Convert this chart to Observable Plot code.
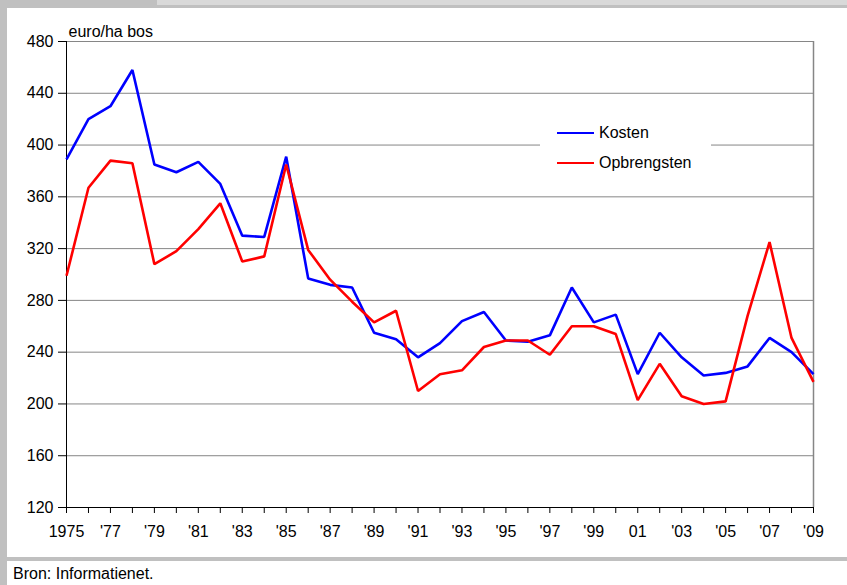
<!DOCTYPE html>
<html>
<head>
<meta charset="utf-8">
<script src="https://cdn.jsdelivr.net/npm/d3@7"></script>
<script src="https://cdn.jsdelivr.net/npm/@observablehq/plot@0.6"></script>
<style>
  html, body { margin: 0; padding: 0; background: #fff; }
  body { width: 847px; height: 585px; position: relative; overflow: hidden;
         font-family: "Liberation Sans", Arial, sans-serif; }
  #chart { position: absolute; left: 0; top: 0; }
  .bar { position: absolute; background: #c0c0c0; }
  #legend { position: absolute; left: 540px; top: 117px; width: 171px; height: 62px; background: #fff;
            font-size: 16px; color: #000; }
  .item { position: absolute; left: 17px; height: 20px; display: flex; align-items: center; }
  .swatch { width: 37px; height: 2.5px; margin-right: 5px; }
  #caption { position: absolute; left: 13px; top: 565px; font-size: 16px; color: #000; }
</style>
</head>
<body>
<div class="bar" style="left:0;top:0;width:847px;height:8px;"></div>
<div style="position:absolute;left:157px;top:0;width:690px;height:5px;background:#d9d9d9;"></div>
<div class="bar" style="left:0;top:0;width:7px;height:585px;"></div>
<div class="bar" style="left:0;top:557px;width:847px;height:4px;"></div>
<div id="chart"></div>
<div id="legend"></div>
<div id="caption">Bron: Informatienet.</div>
<script>
const years = [1975,1976,1977,1978,1979,1980,1981,1982,1983,1984,1985,1986,1987,1988,1989,1990,1991,1992,1993,1994,1995,1996,1997,1998,1999,2000,2001,2002,2003,2004,2005,2006,2007,2008,2009];
const kosten = [389,420,430,458,385,379,387,370,330,329,391,297,292,290,255,250,236,247,264,271,249,248,253,290,263,269,223,255,236,222,224,229,251,240,223];
const opbrengsten = [299,367,388,386,308,318,335,355,310,314,385,319,296,279,263,272,210,223,226,244,249,249,238,260,260,254,203,231,206,200,202,268,325,251,217];
const seriesNames = ["Kosten", "Opbrengsten"];
const seriesColors = ["#0000ff", "#ff0000"];
const yTicks = [120,160,200,240,280,320,360,400,440,480];
const xLabelYears = [1975,1977,1979,1981,1983,1985,1987,1989,1991,1993,1995,1997,1999,2001,2003,2005,2007,2009];
const xLabels = ["1975","'77","'79","'81","'83","'85","'87","'89","'91","'93","'95","'97","'99","01","'03","'05","'07","'09"];
const yUnit = "euro/ha bos";

const labelMap = new Map(xLabelYears.map((y, i) => [y, xLabels[i]]));
const rows = [];
seriesNames.forEach((name, s) => {
  const vals = s === 0 ? kosten : opbrengsten;
  years.forEach((yr, i) => rows.push({ series: name, year: yr, value: vals[i] }));
});

const chart = Plot.plot({
  width: 847,
  height: 558,
  marginLeft: 66,
  marginRight: 34,
  marginTop: 41,
  marginBottom: 51,
  style: { fontFamily: "'Liberation Sans', Arial, sans-serif", fontSize: "16px", color: "#000", background: "transparent", overflow: "visible" },
  x: { domain: [1975, 2009] },
  y: { domain: [120, 480] },
  color: { domain: seriesNames, range: seriesColors },
  marks: [
    Plot.gridY(yTicks.filter(v => v > 120), { stroke: "#868686", strokeOpacity: 1, strokeWidth: 1 }),
    Plot.ruleX([2009], { stroke: "#868686", strokeWidth: 1.5 }),
    Plot.axisY({ ticks: yTicks, tickSize: 8, tickPadding: 5, label: null, tickFormat: d => String(d) }),
    Plot.axisX({ ticks: years, tickSize: 6, tickPadding: 12, label: null, tickFormat: d => labelMap.get(d) ?? "" }),
    Plot.ruleX([1975], { stroke: "#000", strokeWidth: 1 }),
    Plot.ruleY([120], { stroke: "#000", strokeWidth: 1 }),
    Plot.line(rows, { x: "year", y: "value", z: "series", stroke: "series", strokeWidth: 2.6, strokeLinejoin: "miter", strokeLinecap: "butt" }),
    Plot.text([yUnit], { x: 1975, y: 480, frameAnchor: "top-left", textAnchor: "start", dx: 2, dy: -16, fontSize: 16 })
  ]
});
document.getElementById("chart").appendChild(chart);

const legend = document.getElementById("legend");
seriesNames.forEach((name, i) => {
  const item = document.createElement("div");
  item.className = "item";
  item.style.top = (6 + i * 30) + "px";
  const sw = document.createElement("div");
  sw.className = "swatch";
  sw.style.background = seriesColors[i];
  const label = document.createElement("span");
  label.textContent = name;
  item.appendChild(sw);
  item.appendChild(label);
  legend.appendChild(item);
});
</script>
</body>
</html>
